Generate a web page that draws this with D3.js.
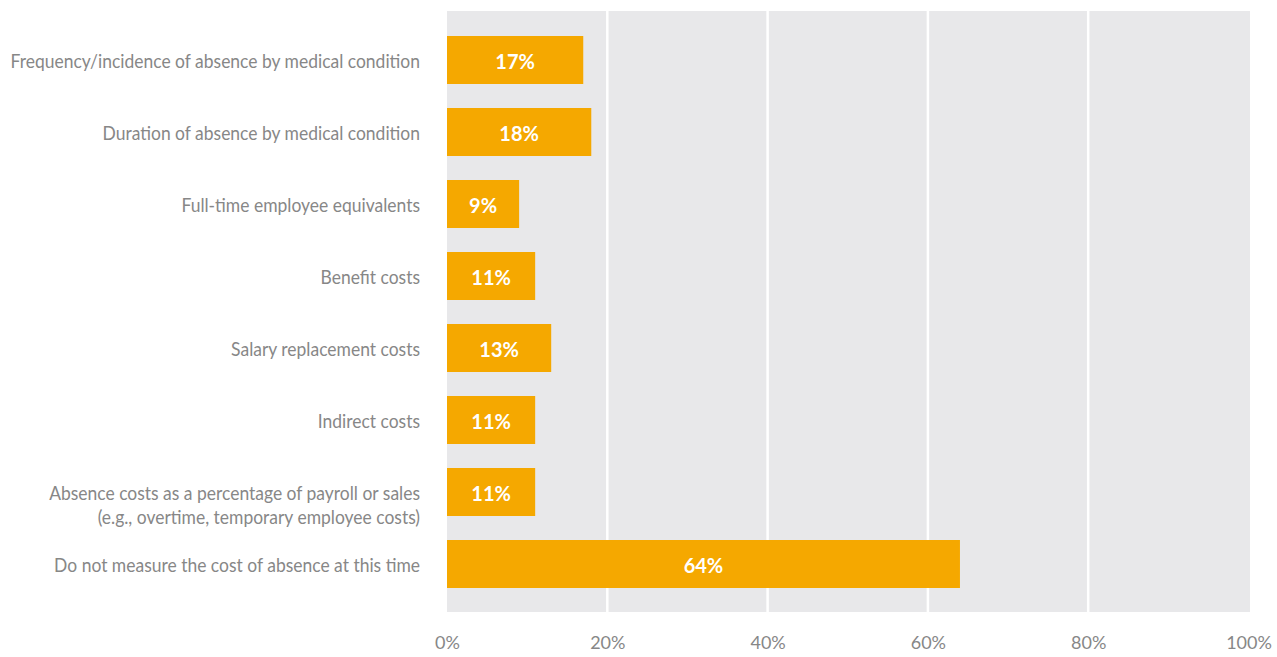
<!DOCTYPE html>
<html>
<head>
<meta charset="utf-8">
<script src="https://cdn.jsdelivr.net/npm/d3@7"></script>
<style>
  html, body { margin: 0; padding: 0; background: #ffffff; }
  svg { display: block; }
  text { font-family: Lato, "Noto Sans", sans-serif; }
</style>
</head>
<body>
<svg id="chart" width="1277" height="657"></svg>
<script>
// Measures used to track the cost of absence
const categories = [
  ["Frequency/incidence of absence by medical condition"],
  ["Duration of absence by medical condition"],
  ["Full-time employee equivalents"],
  ["Benefit costs"],
  ["Salary replacement costs"],
  ["Indirect costs"],
  ["Absence costs as a percentage of payroll or sales", "(e.g., overtime, temporary employee costs)"],
  ["Do not measure the cost of absence at this time"]
];
const values = [17, 18, 9, 11, 13, 11, 11, 64];
const tickValues = [0, 20, 40, 60, 80, 100];
const tickLabels = ["0%", "20%", "40%", "60%", "80%", "100%"];

const svg = d3.select("#chart");
const plot = { left: 447, right: 1250, top: 11, bottom: 612 };

const x = d3.scaleLinear().domain([0, 100]).range([plot.left, 1248.5]);
const y = d3.scaleBand()
  .domain(d3.range(categories.length))
  .range([24, 600])
  .paddingInner(1 / 3)
  .paddingOuter(1 / 6);

// panel background
svg.append("rect")
  .attr("x", plot.left).attr("y", plot.top)
  .attr("width", plot.right - plot.left)
  .attr("height", plot.bottom - plot.top)
  .attr("fill", "#e8e8ea");

// vertical gridlines
svg.append("g")
  .selectAll("line")
  .data(tickValues.filter(t => t > 0 && t < 100))
  .join("line")
  .attr("x1", d => x(d)).attr("x2", d => x(d))
  .attr("y1", plot.top).attr("y2", plot.bottom)
  .attr("stroke", "#ffffff").attr("stroke-width", 2.5);

// bars
svg.append("g")
  .selectAll("rect")
  .data(values)
  .join("rect")
  .attr("x", x(0))
  .attr("y", (d, i) => y(i))
  .attr("width", d => x(d) - x(0))
  .attr("height", y.bandwidth())
  .attr("fill", "#f5a800");

// value labels inside bars
svg.append("g")
  .selectAll("text")
  .data(values)
  .join("text")
  .attr("x", d => (x(0) + x(d)) / 2)
  .attr("y", (d, i) => y(i) + y.bandwidth() / 2 + 9)
  .attr("text-anchor", "middle")
  .attr("fill", "#ffffff")
  .attr("font-weight", "bold")
  .attr("font-size", 20)
  .text(d => d + "%");

// category labels, slightly condensed
const labels = svg.append("g")
  .selectAll("text")
  .data(categories)
  .join("text")
  .attr("text-anchor", "end")
  .attr("fill", "#878787")
  .attr("font-size", 18.5)
  .attr("transform", (d, i) => `translate(420,${y(i) + y.bandwidth() / 2 + 8}) scale(0.945,1)`);
labels.selectAll("tspan")
  .data(d => d)
  .join("tspan")
  .attr("x", 0)
  .attr("dy", (d, j) => j === 0 ? 0 : 24)
  .text(d => d);

// x axis tick labels
const xAxis = d3.axisBottom(x)
  .tickValues(tickValues)
  .tickFormat((d, i) => tickLabels[i])
  .tickSize(0)
  .tickPadding(0);
const axisG = svg.append("g")
  .attr("transform", "translate(0,636)")
  .call(xAxis);
axisG.select(".domain").remove();
axisG.selectAll("text")
  .attr("fill", "#878787")
  .attr("font-size", 18)
  .attr("font-family", "Lato, 'Noto Sans', sans-serif");
</script>
</body>
</html>
